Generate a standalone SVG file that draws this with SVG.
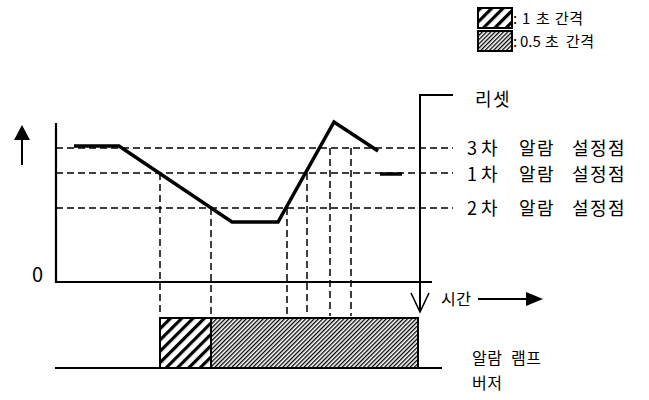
<svg xmlns="http://www.w3.org/2000/svg" width="649" height="400" viewBox="0 0 649 400">
<defs>
<pattern id="hatchCoarse" patternUnits="userSpaceOnUse" width="8" height="8" patternTransform="rotate(45)"><rect width="8" height="8" fill="#fff"/><rect width="3.2" height="8" fill="#000"/></pattern>
<pattern id="hatchFine" patternUnits="userSpaceOnUse" width="3" height="3" patternTransform="rotate(45)"><rect width="3" height="3" fill="#fff"/><rect width="1.3" height="3" fill="#000"/></pattern>
</defs>
<style>
.t{font-family:"Noto Sans CJK KR","Noto Sans",sans-serif;font-size:18px;fill:#000;letter-spacing:1.5px}
.s{font-size:15px;letter-spacing:0.5px}
.dash{stroke:#000;stroke-width:1.5;stroke-dasharray:7 4;fill:none}
.sig{stroke:#000;stroke-width:3.5;fill:none;stroke-linejoin:miter}
.axis{stroke:#000;stroke-width:2.2;fill:none}
.box{stroke:#000;stroke-width:2;}
</style>
<rect width="649" height="400" fill="#fff"/>

<g id="legend">
<rect class="box" x="478" y="8" width="34" height="20" fill="url(#hatchCoarse)"/>
<rect class="box" x="478" y="31" width="34" height="20" fill="url(#hatchFine)"/>
<text class="t s" y="24"><tspan x="513">:</tspan><tspan x="522">1</tspan><tspan x="536">초</tspan><tspan x="555">간격</tspan></text>
<text class="t s" y="47"><tspan x="513">:</tspan><tspan x="520" letter-spacing="0">0.5</tspan><tspan x="545">초</tspan><tspan x="566">간격</tspan></text>
</g>

<g id="axes">
<line class="axis" x1="56" y1="123" x2="56" y2="283"/>
<line class="axis" x1="55" y1="282" x2="432" y2="282"/>
<line x1="22" y1="138" x2="22" y2="165" stroke="#000" stroke-width="2"/>
<polygon points="22,125 14,140 30,140" fill="#000"/>
<text class="t" x="32" y="282" style="font-size:20px">0</text>
</g>

<g id="connectors">
<line class="dash" x1="56" y1="148" x2="453" y2="148"/>
<line class="dash" x1="56" y1="173" x2="453" y2="173"/>
<line class="dash" x1="56" y1="208" x2="453" y2="208"/>
<line class="dash" x1="160" y1="173" x2="160" y2="316"/>
<line class="dash" x1="211" y1="208" x2="211" y2="316"/>
<line class="dash" x1="287" y1="208" x2="287" y2="316"/>
<line class="dash" x1="307" y1="173" x2="307" y2="316"/>
<line class="dash" x1="330" y1="148" x2="330" y2="316"/>
<line class="dash" x1="351" y1="148" x2="351" y2="316"/>
</g>

<g id="signal">
<polyline class="sig" points="74,146 119,146 232,222 278,222 334,122 378,151"/>
<line class="sig" x1="380" y1="174" x2="402" y2="174"/>
</g>

<g id="setpoint-labels">
<text class="t" y="155"><tspan x="467">3</tspan><tspan x="481">차</tspan><tspan x="519">알람</tspan><tspan x="572">설정점</tspan></text>
<text class="t" y="181"><tspan x="467">1</tspan><tspan x="481">차</tspan><tspan x="519">알람</tspan><tspan x="572">설정점</tspan></text>
<text class="t" y="215"><tspan x="467">2</tspan><tspan x="481">차</tspan><tspan x="519">알람</tspan><tspan x="572">설정점</tspan></text>
</g>

<g id="reset">
<polyline points="453,95 420,95 420,312" fill="none" stroke="#000" stroke-width="2"/>
<polyline points="411,293 420,312 429,293" fill="none" stroke="#000" stroke-width="1.6"/>
<text class="t" x="475" y="106">리셋</text>
</g>

<g id="time">
<text class="t s" y="305" style="font-size:16px"><tspan x="441">시간</tspan></text>
<line x1="478" y1="299" x2="528" y2="299" stroke="#000" stroke-width="2"/>
<polygon points="543,299 526,292 526,306" fill="#000"/>
</g>

<g id="output">
<line x1="55" y1="368" x2="442" y2="368" stroke="#000" stroke-width="2"/>
<rect class="box" x="160" y="318" width="51" height="50" fill="url(#hatchCoarse)"/>
<rect class="box" x="211" y="318" width="207" height="50" fill="url(#hatchFine)"/>
<text class="t s" y="364" style="font-size:16px"><tspan x="472">알람</tspan><tspan x="511">램프</tspan></text>
<text class="t s" x="472" y="389" style="font-size:16px">버저</text>
</g>
</svg>
